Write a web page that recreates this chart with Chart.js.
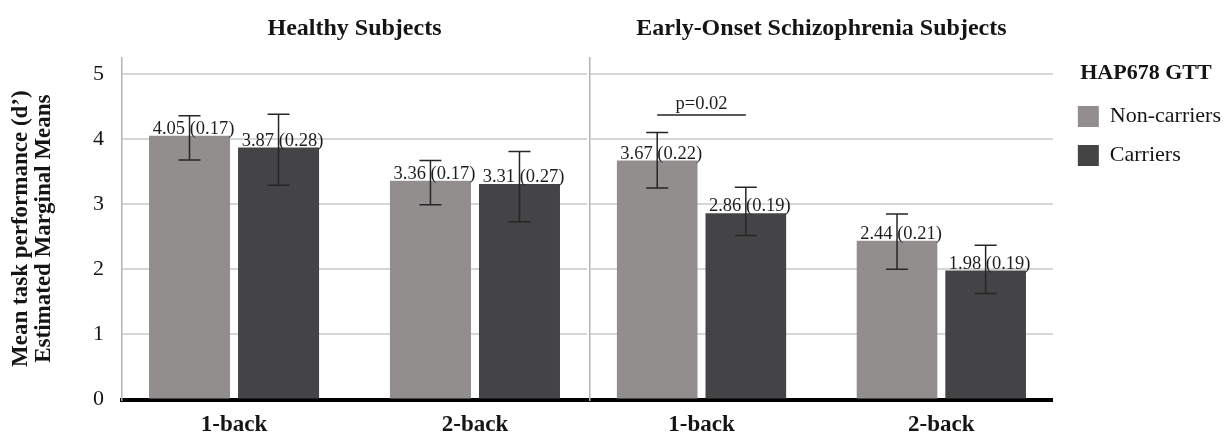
<!DOCTYPE html>
<html>
<head>
<meta charset="utf-8">
<script src="https://cdn.jsdelivr.net/npm/chart.js@4.4.1/dist/chart.umd.min.js"></script>
<style>
  html, body { margin: 0; padding: 0; background: #ffffff; }
  #wrap { position: relative; width: 1231px; height: 437px; background: #ffffff; overflow: hidden; }
  #c1 { position: absolute; left: 0; top: 0; }
  #c2 { position: absolute; left: 588px; top: 0; }
</style>
</head>
<body>
<div id="wrap">
  <canvas id="c1" width="590" height="437"></canvas>
  <canvas id="c2" width="643" height="437"></canvas>
</div>
<script>
// ---------------- data ----------------
const categories = ['1-back', '2-back'];
const panelTitles = ['Healthy Subjects', 'Early-Onset Schizophrenia Subjects'];
const seriesNames = ['Non-carriers', 'Carriers'];
const legendTitle = 'HAP678 GTT';
const yAxisTitle = ['Mean task performance (d\u2019)', 'Estimated Marginal Means'];
const yMin = 0;
const yMax = 5;
const yStep = 1;

// Healthy subjects
const healthyNonCarriers = [4.05, 3.36];
const healthyCarriers = [3.87, 3.31];
const healthyNonCarriersSE = [0.17, 0.17];
const healthyCarriersSE = [0.28, 0.27];
const healthyNonCarriersLow = [3.68, 2.99];
const healthyNonCarriersHigh = [4.36, 3.67];
const healthyCarriersLow = [3.29, 2.73];
const healthyCarriersHigh = [4.38, 3.81];

// Early-onset schizophrenia subjects
const eosNonCarriers = [3.67, 2.44];
const eosCarriers = [2.86, 1.98];
const eosNonCarriersSE = [0.22, 0.21];
const eosCarriersSE = [0.19, 0.19];
const eosNonCarriersLow = [3.25, 2.00];
const eosNonCarriersHigh = [4.10, 2.85];
const eosCarriersLow = [2.52, 1.63];
const eosCarriersHigh = [3.26, 2.37];

// significance annotation (EOS panel)
const sigCategory = '1-back';
const sigValue = 4.37;
const sigText = 'p=0.02';

// ---------------- styles ----------------
const SERIF = '"Liberation Serif", "Times New Roman", serif';
const colNon = '#928e8e';
const colCar = '#444446';
const gridCol = '#d6d6d6';
const textCol = '#151515';
const catPad = 0.465; // empty space (in category units) at each panel edge

const barAnnotations = {
  id: 'barAnnotations',
  afterDatasetsDraw(chart, args, opts) {
    const ctx = chart.ctx;
    const ys = chart.scales.y;
    chart.data.datasets.forEach((ds, i) => {
      const meta = chart.getDatasetMeta(i);
      meta.data.forEach((bar, j) => {
        ctx.save();
        ctx.font = '18.5px ' + SERIF;
        ctx.fillStyle = '#1e1e1e';
        ctx.textAlign = 'center';
        ctx.textBaseline = 'alphabetic';
        ctx.fillText(ds.means[j].toFixed(2) + ' (' + ds.se[j].toFixed(2) + ')', bar.x + 4, bar.y - 2);
        const yl = ys.getPixelForValue(ds.errLow[j]);
        const yh = ys.getPixelForValue(ds.errHigh[j]);
        ctx.strokeStyle = '#262626';
        ctx.lineWidth = 1.5;
        ctx.beginPath();
        ctx.moveTo(bar.x, yl); ctx.lineTo(bar.x, yh);
        ctx.moveTo(bar.x - 11, yh); ctx.lineTo(bar.x + 11, yh);
        ctx.moveTo(bar.x - 11, yl); ctx.lineTo(bar.x + 11, yl);
        ctx.stroke();
        ctx.restore();
      });
    });
    if (opts && opts.sig) {
      const idx = categories.indexOf(opts.sig.category);
      const b0 = chart.getDatasetMeta(0).data[idx];
      const b1 = chart.getDatasetMeta(1).data[idx];
      const yy = ys.getPixelForValue(opts.sig.value);
      ctx.save();
      ctx.strokeStyle = '#222';
      ctx.lineWidth = 1.3;
      ctx.beginPath();
      ctx.moveTo(b0.x, yy); ctx.lineTo(b1.x, yy);
      ctx.stroke();
      ctx.font = '18.5px ' + SERIF;
      ctx.fillStyle = '#1e1e1e';
      ctx.textAlign = 'center';
      ctx.textBaseline = 'alphabetic';
      ctx.fillText(opts.sig.text, (b0.x + b1.x) / 2, yy - 6);
      ctx.restore();
    }
  }
};

function toPoints(vals) { return vals.map((v, i) => ({ x: i, y: v })); }

function makeDatasets(nc, c, ncSE, cSE, ncL, ncH, cL, cH) {
  return [
    { label: seriesNames[0], data: toPoints(nc), means: nc, se: ncSE, errLow: ncL, errHigh: ncH,
      backgroundColor: colNon, borderWidth: 0, categoryPercentage: 0.739, barPercentage: 0.91 },
    { label: seriesNames[1], data: toPoints(c), means: c, se: cSE, errLow: cL, errHigh: cH,
      backgroundColor: colCar, borderWidth: 0, categoryPercentage: 0.739, barPercentage: 0.91 }
  ];
}

function xScale() {
  return {
    type: 'linear',
    min: -catPad, max: categories.length - 1 + catPad,
    offset: false,
    grid: { display: false, drawTicks: false },
    border: { display: true, color: '#000000', width: 4 },
    afterBuildTicks(s) { s.ticks = categories.map((c, i) => ({ value: i })); },
    ticks: { color: textCol, font: { family: SERIF, size: 23, weight: 'bold' }, padding: 12, maxRotation: 0,
             callback: (v) => categories[v] },
    afterFit(s) { s.height = 37.5; }
  };
}

function titleOpts(text) {
  return {
    display: true, text: text, fullSize: false, color: textCol,
    font: { family: SERIF, size: 24, weight: 'bold', lineHeight: 1.2 },
    padding: { top: 14.1, bottom: 14.8 }
  };
}

// ---------------- left panel ----------------
new Chart(document.getElementById('c1'), {
  type: 'bar',
  data: {
    datasets: makeDatasets(healthyNonCarriers, healthyCarriers, healthyNonCarriersSE, healthyCarriersSE,
      healthyNonCarriersLow, healthyNonCarriersHigh, healthyCarriersLow, healthyCarriersHigh)
  },
  options: {
    responsive: false, animation: false, devicePixelRatio: 1,
    layout: { padding: { left: 0, right: 3, top: 0, bottom: 0 } },
    plugins: {
      legend: { display: false },
      tooltip: { enabled: false },
      title: titleOpts(panelTitles[0]),
      barAnnotations: {}
    },
    scales: {
      x: xScale(),
      y: {
        min: yMin, max: yMax + 0.25,
        grid: { color: gridCol, lineWidth: 2, drawTicks: false },
        border: { display: true, color: '#b4b4b4', width: 1.5 },
        ticks: { stepSize: yStep, includeBounds: false, padding: 18, color: textCol,
                 font: { family: SERIF, size: 22 } },
        title: { display: true, text: yAxisTitle, color: textCol,
                 font: { family: SERIF, size: 23, weight: 'bold', lineHeight: 1.0 },
                 padding: { top: 10, bottom: 0 } },
        afterFit(s) { s.width = 122; }
      }
    }
  },
  plugins: [barAnnotations]
});

// ---------------- right panel ----------------
new Chart(document.getElementById('c2'), {
  type: 'bar',
  data: {
    datasets: makeDatasets(eosNonCarriers, eosCarriers, eosNonCarriersSE, eosCarriersSE,
      eosNonCarriersLow, eosNonCarriersHigh, eosCarriersLow, eosCarriersHigh)
  },
  options: {
    responsive: false, animation: false, devicePixelRatio: 1,
    layout: { padding: { left: 0, right: 0, top: 0, bottom: 0 } },
    plugins: {
      tooltip: { enabled: false },
      title: titleOpts(panelTitles[1]),
      legend: {
        display: true, position: 'right', align: 'start', maxWidth: 400,
        title: { display: true, text: legendTitle, color: textCol, position: 'center',
                 font: { family: SERIF, size: 22, weight: 'bold' }, padding: { top: 62, bottom: 0 } },
        labels: { boxWidth: 21, boxHeight: 21, padding: 17, color: textCol,
                  font: { family: SERIF, size: 22 } }
      },
      barAnnotations: { sig: { category: sigCategory, value: sigValue, text: sigText } }
    },
    scales: {
      x: xScale(),
      y: {
        min: yMin, max: yMax + 0.25,
        grid: { color: gridCol, lineWidth: 2, drawTicks: false },
        border: { display: true, color: '#b4b4b4', width: 1.5 },
        ticks: { display: false, stepSize: yStep, includeBounds: false },
        afterFit(s) { s.width = 2; }
      },
      yPad: {
        type: 'linear', position: 'right', display: true,
        grid: { display: false, drawTicks: false },
        border: { display: false },
        ticks: { display: false },
        afterFit(s) { s.width = 8; }
      }
    }
  },
  plugins: [barAnnotations]
});
</script>
</body>
</html>
